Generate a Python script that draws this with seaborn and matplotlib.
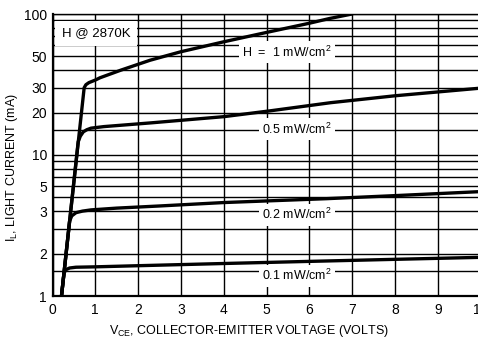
import matplotlib
matplotlib.use("Agg")
import matplotlib.pyplot as plt
import matplotlib.font_manager as fm
import numpy as np
import pandas as pd
import seaborn as sns
from matplotlib.ticker import FixedLocator, FixedFormatter, NullFormatter

# ---- data ----
v_01 = [0.21, 0.27, 0.32, 0.40, 0.55, 1.0, 2.0, 4.0, 6.0, 8.0, 10.0]
i_01 = [1.0, 1.46, 1.54, 1.58, 1.60, 1.61, 1.64, 1.70, 1.76, 1.82, 1.88]

v_02 = [0.21, 0.40, 0.45, 0.55, 0.70, 0.90, 1.5, 2.5, 4.0, 6.4, 8.0, 10.0]
i_02 = [1.0, 3.4, 3.7, 3.9, 4.0, 4.08, 4.2, 4.35, 4.6, 4.9, 5.15, 5.5]

v_05 = [0.21, 0.60, 0.65, 0.72, 0.80, 0.90, 1.2, 2.3, 4.0, 5.1, 6.5, 8.0, 10.0]
i_05 = [1.0, 12.4, 13.6, 14.6, 15.1, 15.5, 15.9, 16.9, 18.7, 20.6, 23.5, 26.3, 29.8]

v_10 = [0.21, 0.74, 0.78, 0.85, 1.0, 1.11, 1.6, 2.28, 3.0, 4.0, 5.0, 6.0, 6.48, 7.0]
i_10 = [1.0, 30.0, 31.5, 32.6, 34.0, 35.3, 40.0, 47.0, 54.0, 63.5, 74.0, 86.0, 93.0, 100.0]

series_names = ["0.1", "0.2", "0.5", "1"]

x_ticks = list(range(0, 11))
y_tick_pos = [1, 2, 4, 6, 10, 20, 30, 50, 100]
y_tick_labels = ["1", "2", "3", "5", "10", "20", "30", "50", "100"]
y_minor = [1.5, 3, 5, 7, 8, 9, 15, 40, 60, 70, 80, 90]

labels_text = ["H @ 2870K", r"H  =  1 mW/cm$^\mathregular{2}$", r"0.5 mW/cm$^\mathregular{2}$",
               r"0.2 mW/cm$^\mathregular{2}$", r"0.1 mW/cm$^\mathregular{2}$"]
labels_x = [0.22, 4.43, 4.89, 4.89, 4.89]
labels_y = [73.0, 53.8, 15.3, 3.76, 1.39]

# ---- style ----
sns.set_theme(style="white")
names = {f.name for f in fm.fontManager.ttflist}
narrow = "Liberation Sans Narrow" if "Liberation Sans Narrow" in names else "Liberation Sans"
plt.rcParams["font.family"] = [narrow, "DejaVu Sans"]
plt.rcParams["mathtext.fontset"] = "custom"
plt.rcParams["mathtext.rm"] = narrow
plt.rcParams["mathtext.it"] = narrow

frames = []
for name, v, i in zip(series_names, [v_01, v_02, v_05, v_10], [i_01, i_02, i_05, i_10]):
    frames.append(pd.DataFrame({"V": v, "I": i, "H": name}))
df = pd.concat(frames, ignore_index=True)

fig = plt.figure(figsize=(4.78, 3.43), dpi=100)
ax = fig.add_axes([52.5 / 478, 47 / 343, 428 / 478, 282 / 343])

sns.lineplot(data=df, x="V", y="I", units="H", estimator=None, sort=False,
             color="black", lw=2.4, ax=ax, zorder=3)

ax.set_yscale("log")
ax.set_xlim(0, 10)
ax.set_ylim(1, 100)

ax.set_xticks(x_ticks)
ax.set_xticklabels([str(t) for t in x_ticks])
ax.yaxis.set_major_locator(FixedLocator(y_tick_pos))
ax.yaxis.set_major_formatter(FixedFormatter(y_tick_labels))
ax.yaxis.set_minor_locator(FixedLocator(y_minor))
ax.yaxis.set_minor_formatter(NullFormatter())

ax.grid(which="both", color="black", lw=1.0)
ax.set_axisbelow(True)
ax.tick_params(axis="both", which="both", length=0, labelsize=10, colors="black")
ax.tick_params(axis="y", pad=4)
ax.tick_params(axis="x", pad=5)

for side in ["left", "bottom"]:
    ax.spines[side].set_color("black")
    ax.spines[side].set_linewidth(1.6)
ax.spines["top"].set_color("black")
ax.spines["top"].set_linewidth(1.0)
ax.spines["right"].set_visible(False)

ax.set_xlabel("")
ax.set_ylabel("")
fig.text(249 / 478, 1 - 331 / 343, r"V$_\mathregular{CE}$, COLLECTOR-EMITTER VOLTAGE (VOLTS)",
         ha="center", va="center", fontsize=9, color="black")
fig.text(12 / 478, 1 - 168 / 343, r"I$_\mathregular{L}$, LIGHT CURRENT (mA)",
         ha="center", va="center", rotation=90, fontsize=9, color="black")

for k, (t, x, y) in enumerate(zip(labels_text, labels_x, labels_y)):
    ax.text(x, y, t, ha="left", va="center", fontsize=9.5 if k == 0 else 9,
            color="black", zorder=5,
            bbox=dict(boxstyle=f"square,pad={0.25 if k else 0.5}", fc="white", ec="none"))

fig.savefig("out.png", dpi=100)
